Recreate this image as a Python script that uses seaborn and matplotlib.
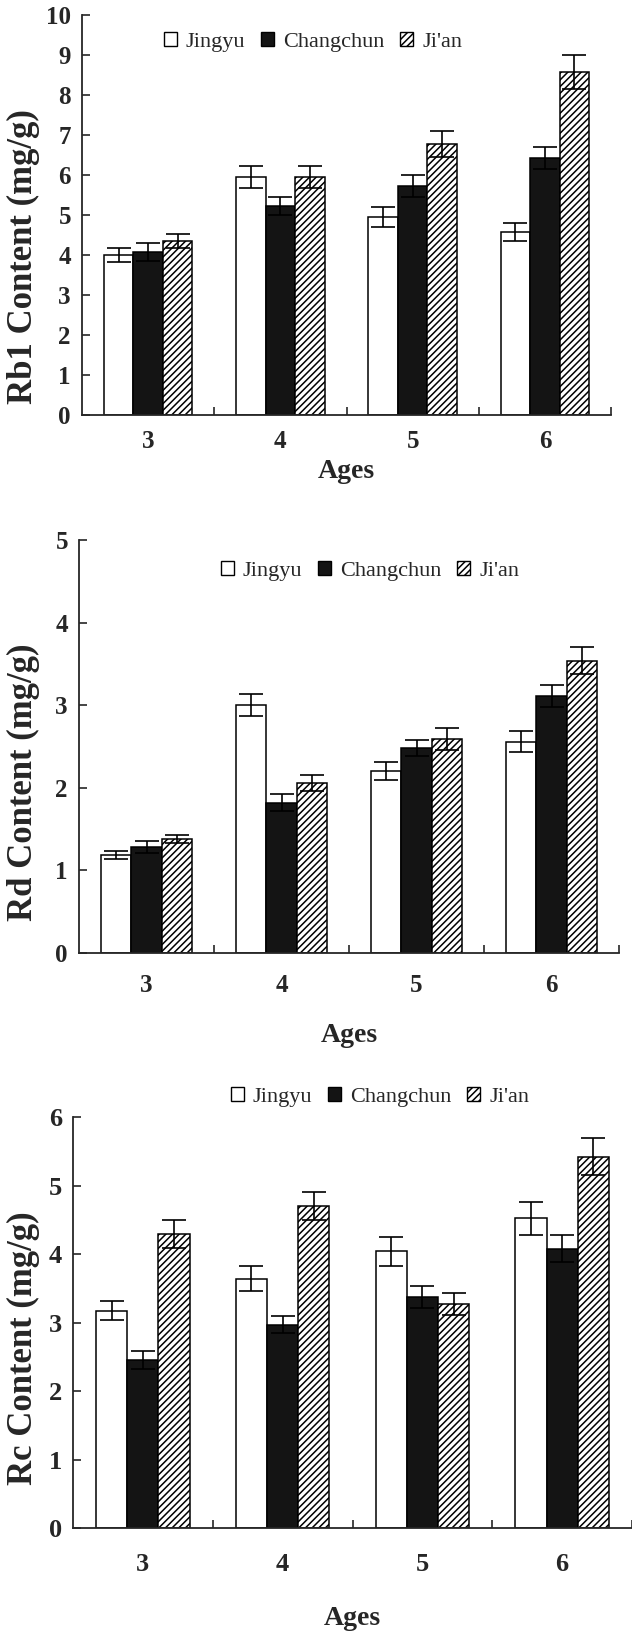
"""Ginsenoside content by age and region: Rb1, Rd and Rc panels."""

import matplotlib.pyplot as plt
import matplotlib.patches as mpatches
import seaborn as sns
import pandas as pd

sns.set_style("ticks")
plt.rcParams['font.family'] = ['Liberation Serif', 'DejaVu Serif']
plt.rcParams['hatch.linewidth'] = 1.1

ages = ['3', '4', '5', '6']
regions = ['Jingyu', 'Changchun', "Ji'an"]

# Rb1 content (mg/g)
rb1_jingyu = [4.00, 5.95, 4.95, 4.58]
rb1_changchun = [4.07, 5.22, 5.73, 6.42]
rb1_jian = [4.35, 5.95, 6.78, 8.57]
rb1_err_jingyu = [0.17, 0.28, 0.26, 0.23]
rb1_err_changchun = [0.22, 0.22, 0.28, 0.28]
rb1_err_jian = [0.17, 0.28, 0.33, 0.43]

# Rd content (mg/g)
rd_jingyu = [1.19, 3.00, 2.20, 2.56]
rd_changchun = [1.28, 1.82, 2.48, 3.11]
rd_jian = [1.38, 2.06, 2.59, 3.54]
rd_err_jingyu = [0.05, 0.13, 0.11, 0.13]
rd_err_changchun = [0.07, 0.10, 0.10, 0.13]
rd_err_jian = [0.05, 0.10, 0.13, 0.16]

# Rc content (mg/g)
rc_jingyu = [3.17, 3.64, 4.04, 4.52]
rc_changchun = [2.45, 2.97, 3.37, 4.08]
rc_jian = [4.29, 4.70, 3.27, 5.42]
rc_err_jingyu = [0.14, 0.18, 0.21, 0.24]
rc_err_changchun = [0.13, 0.13, 0.16, 0.20]
rc_err_jian = [0.20, 0.20, 0.16, 0.27]

W, H = 632, 1635
fig = plt.figure(figsize=(W / 100, H / 100), dpi=100)

panels = [
    dict(vals=[rb1_jingyu, rb1_changchun, rb1_jian],
         errs=[rb1_err_jingyu, rb1_err_changchun, rb1_err_jian],
         ylabel='Rb1 Content (mg/g)', ymax=10,
         box=(82, 611, 15, 415), xpad=11, fs=18,
         ylab=(40, 257), xlab=(346, 471), leg=(313, 42)),
    dict(vals=[rd_jingyu, rd_changchun, rd_jian],
         errs=[rd_err_jingyu, rd_err_changchun, rd_err_jian],
         ylabel='Rd Content (mg/g)', ymax=5,
         box=(79, 619, 540, 953), xpad=15, fs=18,
         ylab=(40, 782), xlab=(349, 1035), leg=(370, 571)),
    dict(vals=[rc_jingyu, rc_changchun, rc_jian],
         errs=[rc_err_jingyu, rc_err_changchun, rc_err_jian],
         ylabel='Rc Content (mg/g)', ymax=6,
         box=(73, 632, 1117, 1528), xpad=18, fs=19,
         ylab=(40, 1348), xlab=(352, 1618), leg=(380, 1097)),
]

fills = ['white', '#141414', 'white']
hatches = [None, None, '/////']

for p in panels:
    l, r, t, b = p['box']
    ax = fig.add_axes([l / W, 1 - b / H, (r - l) / W, (b - t) / H])

    df = pd.DataFrame({
        'Age': ages * 3,
        'Region': [reg for reg in regions for _ in ages],
        'Content': p['vals'][0] + p['vals'][1] + p['vals'][2],
    })
    sns.barplot(data=df, x='Age', y='Content', hue='Region', order=ages,
                hue_order=regions, palette=fills, width=0.67, errorbar=None,
                edgecolor='black', linewidth=1.1, legend=False, ax=ax)

    # error bars at the centre of each drawn bar
    for cont, hatch, err in zip(ax.containers, hatches, p['errs']):
        xs, ys = [], []
        for bar in cont:
            if hatch:
                bar.set_hatch(hatch)
            xs.append(bar.get_x() + bar.get_width() / 2)
            ys.append(bar.get_height())
        ax.errorbar(xs, ys, yerr=err, fmt='none', ecolor='black',
                    elinewidth=1.2, capsize=8.5, capthick=1.2, zorder=3)

    ax.set_xlim(-0.5, 3.5)
    ax.set_ylim(0, p['ymax'])
    ax.set_yticks(range(0, p['ymax'] + 1))
    ax.set_xticks([0.5, 1.5, 2.5, 3.5], minor=True)
    sns.despine(ax=ax)
    for s in ['left', 'bottom']:
        ax.spines[s].set_linewidth(1.3)
    ax.tick_params(axis='x', which='major', length=0, pad=p['xpad'])
    ax.tick_params(axis='x', which='minor', direction='in', length=6, width=1.2)
    ax.tick_params(axis='y', direction='in', length=6, width=1.2, pad=8)
    for lab in ax.get_xticklabels() + ax.get_yticklabels():
        lab.set_fontsize(p['fs'])
        lab.set_fontweight('bold')

    ax.set_ylabel(p['ylabel'], fontsize=25, fontweight='bold')
    ax.yaxis.set_label_coords((p['ylab'][0] - l) / (r - l),
                              (b - p['ylab'][1]) / (b - t))
    ax.set_xlabel('Ages', fontsize=20, fontweight='bold', va='center')
    ax.xaxis.set_label_coords((p['xlab'][0] - l) / (r - l),
                              (b - p['xlab'][1]) / (b - t))

    handles = [mpatches.Patch(facecolor=f, edgecolor='black', hatch=h, linewidth=1.0)
               for f, h in zip(fills, hatches)]
    ax.legend(handles, regions, ncol=3, frameon=False, loc='center',
              bbox_to_anchor=((p['leg'][0] - l) / (r - l), (b - p['leg'][1]) / (b - t)),
              prop={'family': 'Liberation Serif', 'size': 16},
              handlelength=0.6, handleheight=0.6, handletextpad=0.4,
              columnspacing=0.7, borderpad=0, borderaxespad=0)

fig.savefig('out.png', dpi=100)
